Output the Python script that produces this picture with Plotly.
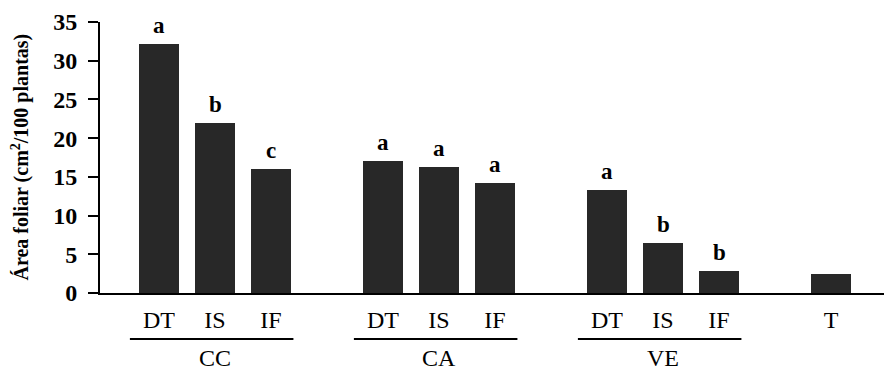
import plotly.graph_objects as go

# Leaf area per treatment, grouped by system
groups = ["CC", "CA", "VE"]
treatments = ["DT", "IS", "IF"]
cc_values = [32.2, 22.0, 16.0]
ca_values = [17.0, 16.3, 14.2]
ve_values = [13.3, 6.5, 2.8]
control_label = "T"
control_value = [2.5]

cc_letters = ["a", "b", "c"]
ca_letters = ["a", "a", "a"]
ve_letters = ["a", "b", "b"]

y_ticks = [0, 5, 10, 15, 20, 25, 30, 35]

SERIF = "Liberation Serif, Times New Roman, serif"
BAR_COLOR = "#282828"

# x slots: three bars per group with an empty slot between groups
group_starts = [0, 4, 8]
control_pos = 12

xs, ys, labels, letters = [], [], [], []
for start, vals, lets in zip(group_starts, [cc_values, ca_values, ve_values],
                             [cc_letters, ca_letters, ve_letters]):
    for i, (v, l) in enumerate(zip(vals, lets)):
        xs.append(start + i)
        ys.append(v)
        labels.append(treatments[i])
        letters.append(l)
xs.append(control_pos)
ys.append(control_value[0])
labels.append(control_label)
letters.append("")

fig = go.Figure()
fig.add_trace(go.Bar(
    x=xs, y=ys, width=0.73,
    marker=dict(color=BAR_COLOR, line=dict(width=0)),
    hoverinfo="skip",
))

# significance letters above bars
for x, y, l in zip(xs, ys, letters):
    if l:
        fig.add_annotation(
            x=x, y=y, text=l, showarrow=False,
            xanchor="center", yanchor="bottom", yshift=4,
            font=dict(family=SERIF, size=23, color="black", weight="bold"),
        )

# group underlines and names
for start, name in zip(group_starts, groups):
    fig.add_shape(
        type="line", xref="x", yref="paper",
        x0=start - 0.52, x1=start + 2.4, y0=-0.17, y1=-0.17,
        line=dict(color="black", width=2),
    )
    fig.add_annotation(
        x=start + 1, xref="x", y=-0.24, yref="paper", text=name,
        showarrow=False, xanchor="center", yanchor="middle",
        font=dict(family=SERIF, size=24, color="black"),
    )

# y axis title
fig.add_annotation(
    xref="paper", yref="paper", x=-0.102, y=0.5,
    text="Área foliar (cm<sup>2</sup>/100 plantas)",
    textangle=-90, showarrow=False, xanchor="center", yanchor="middle",
    font=dict(family=SERIF, size=20, color="black", weight="bold"),
)

fig.update_xaxes(
    range=[-1.054, 12.946],
    tickvals=xs, ticktext=labels,
    showline=True, linecolor="black", linewidth=2,
    ticks="", showgrid=False, zeroline=False,
    ticklabelstandoff=4,
    tickfont=dict(family=SERIF, size=24, color="black"),
)
fig.update_yaxes(
    range=[0, 35], tickvals=y_ticks,
    showline=True, linecolor="black", linewidth=2,
    ticks="outside", ticklen=10, tickwidth=2, tickcolor="black",
    showgrid=False, zeroline=False,
    ticklabelstandoff=6,
    tickfont=dict(family=SERIF, size=24, color="black", weight="bold"),
)

fig.update_layout(
    width=884, height=372,
    margin=dict(l=100, r=0, t=22, b=79),
    plot_bgcolor="white", paper_bgcolor="white",
    showlegend=False, bargap=0,
)

fig.write_html("out.html")
